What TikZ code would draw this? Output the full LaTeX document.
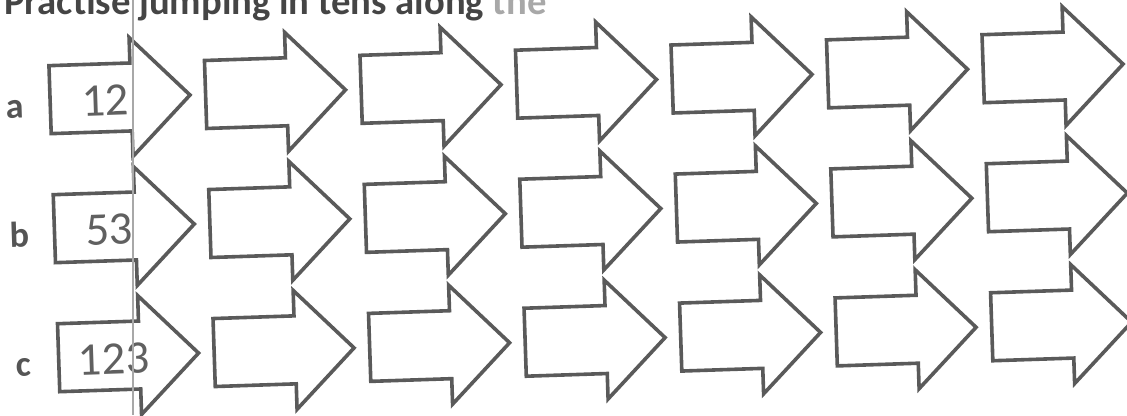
\documentclass[tikz,border=0pt]{standalone}
\usepackage{fontspec}
\setmainfont{Carlito}
\usetikzlibrary{positioning}

\definecolor{inkgray}{HTML}{5A5A5A}
\definecolor{numgray}{HTML}{606060}
\definecolor{lblgray}{HTML}{555555}
\definecolor{titlegray}{HTML}{454545}
\definecolor{fadegray}{HTML}{A8A8A8}

\begin{document}
\begin{tikzpicture}[x=0.75pt, y=0.75pt,
  jump/.style={draw=inkgray, line width=2.7pt, line join=miter},
  num/.style={font=\fontsize{35}{40}\selectfont, text=numgray, anchor=base, inner sep=0pt},
  rowlbl/.style={font=\fontsize{27}{32}\selectfont\bfseries, text=lblgray, anchor=base, inner sep=0pt},
  scanline/.style={draw=fadegray, line width=0.8pt}]

  \useasboundingbox (0,0) rectangle (1127,-415);
  \clip (0,0) rectangle (1127,-415);

  % Heading, cut off by the top edge
  \node[font=\fontsize{29}{34}\selectfont\bfseries, text=titlegray, anchor=base west, inner sep=0pt]
    (title) at (4,-14) {Practise jumping in tens along \textcolor{fadegray}{the}};

  % Rows of jump arrows (the sheet is scanned slightly skew)
  \begin{scope}[shift={(190,-95)}, rotate=1.9, every node/.append style={transform shape}]
    \foreach \r/\first [count=\i from 0] in {a/12, b/53, c/123} {
      \begin{scope}[shift={(0,-\i*129.1)}]
        \node[rowlbl] (lbl\r) at (-175,-17) {\r};
        \foreach \c in {1,...,7}
          \draw[jump, shift={({(\c-1)*155.6},0)}]
            (-140,34) -- (-59,34) -- (-59,59.5) -- (0,0)
            -- (-59,-59.5) -- (-59,-34) -- (-140,-34) -- cycle;
        \node[num] (start\r) at (-85,-18) {\first};
      \end{scope}
    }
  \end{scope}

  % Fold mark from the scanner
  \draw[scanline] (133,0) -- (133,-415);
\end{tikzpicture}
\end{document}
